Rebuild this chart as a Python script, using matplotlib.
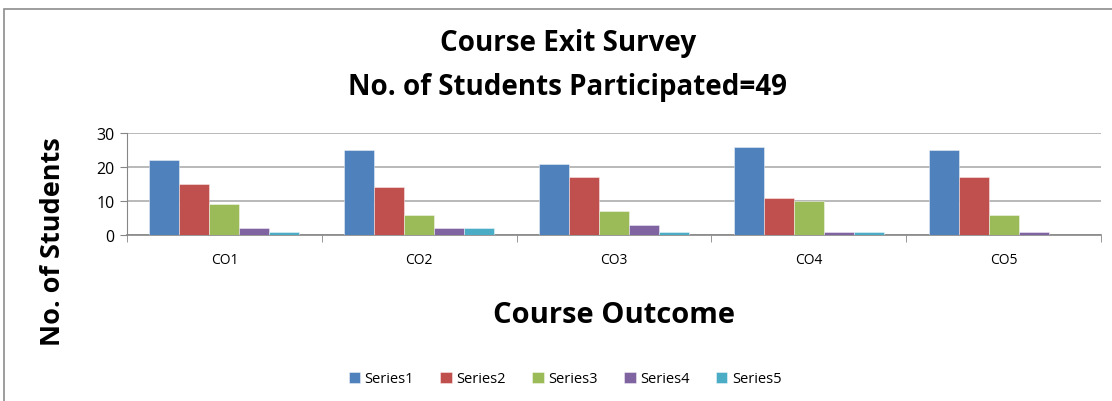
import numpy as np
import matplotlib.pyplot as plt
from matplotlib.patches import Rectangle

# Course exit survey counts per course outcome
categories = ['CO1', 'CO2', 'CO3', 'CO4', 'CO5']
series1 = [22, 25, 21, 26, 25]
series2 = [15, 14, 17, 11, 17]
series3 = [9, 6, 7, 10, 6]
series4 = [2, 2, 3, 1, 1]
series5 = [1, 2, 1, 1, 0]
series_names = ['Series1', 'Series2', 'Series3', 'Series4', 'Series5']
yticks = [0, 10, 20, 30]

colors = ['#4F81BD', '#C0504D', '#9BBB59', '#8064A2', '#4BACC6']
plt.rcParams['font.family'] = ['Open Sans', 'DejaVu Sans']

fig = plt.figure(figsize=(11.12, 4.02), dpi=100)
# outer chart border (only top/left visible in reference)
fig.patches.append(Rectangle((4/1112, -0.1), 1.2, 1 - 10/402 + 0.1,
                             transform=fig.transFigure, fill=False,
                             edgecolor='#8c8c8c', linewidth=1.2))

ax = fig.add_axes([127/1112, 1 - 236/402, (1101 - 127)/1112, (236 - 134)/402])

x = np.arange(len(categories))
w = 0.154
data = [series1, series2, series3, series4, series5]
for i, vals in enumerate(data):
    ax.bar(x + (i - 2) * w, vals, width=w, color=colors[i],
           edgecolor=(1, 1, 1, 0.5), linewidth=0.6, label=series_names[i],
           zorder=3)

ax.set_xlim(-0.5, len(categories) - 0.5)
ax.set_ylim(0, 30)
ax.set_yticks(yticks)
ax.set_xticks(x)
ax.set_xticklabels(categories, fontsize=10)
ax.set_xticks(np.arange(-0.5, len(categories)), minor=True)
ax.tick_params(axis='x', which='major', length=0, pad=12)
ax.tick_params(axis='x', which='minor', length=5, color='#868686')
ax.tick_params(axis='y', length=5, color='#868686', labelsize=11.5, pad=4)
ax.grid(axis='y', color='#a6a6a6', linewidth=1.1, zorder=0)
for s in ['top', 'right']:
    ax.spines[s].set_visible(False)
ax.spines['left'].set_color('#868686')
ax.spines['bottom'].set_color('#868686')
ax.spines['bottom'].set_linewidth(1.2)

fig.text(568/1112, 1 - 44/402, 'Course Exit Survey', ha='center', va='center',
         fontsize=20, fontweight='bold')
fig.text(568/1112, 1 - 88/402, 'No. of Students Participated=49', ha='center',
         va='center', fontsize=20, fontweight='bold')
fig.text(614/1112, 1 - 316/402, 'Course Outcome', ha='center', va='center',
         fontsize=21, fontweight='bold')
fig.text(53/1112, 1 - 242/402, 'No. of Students', ha='center', va='center',
         rotation=90, fontsize=19.5, fontweight='bold')

fig.legend(loc='center', bbox_to_anchor=(565/1112, 1 - 380/402), ncol=5,
           frameon=False, fontsize=10.5, handlelength=0.8, handleheight=0.8,
           handletextpad=0.3, columnspacing=1.8)

fig.savefig('out.png', dpi=100)
